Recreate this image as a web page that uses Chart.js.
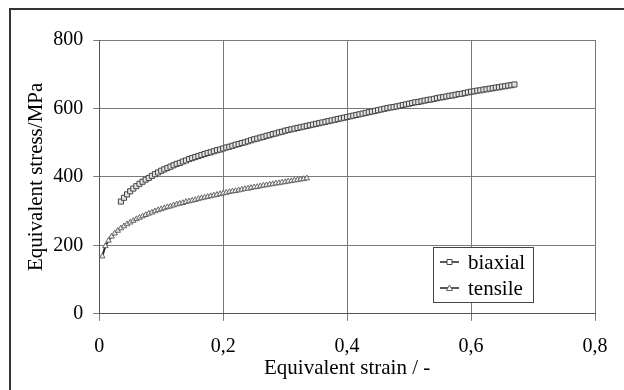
<!DOCTYPE html>
<html>
<head>
<meta charset="utf-8">
<script src="https://cdn.jsdelivr.net/npm/chart.js@4/dist/chart.umd.min.js"></script>
<style>
  html, body { margin: 0; padding: 0; background: #fff; }
  #wrap { width: 624px; height: 390px; }
</style>
</head>
<body>
<div id="wrap"><canvas id="stressChart" width="624" height="390"></canvas></div>
<script>
// values
const biaxialStrain = [
  0.035, 0.04, 0.045, 0.05, 0.055, 0.06, 0.065, 0.07, 0.075, 0.08, 0.085, 0.09, 0.095, 0.1,
  0.105, 0.11, 0.115, 0.12, 0.125, 0.13, 0.135, 0.14, 0.145, 0.15, 0.155, 0.16, 0.165, 0.17, 0.175, 0.18, 0.185, 0.19, 0.195, 0.2,
  0.205, 0.21, 0.215, 0.22, 0.225, 0.23, 0.235, 0.24, 0.245, 0.25, 0.255, 0.26, 0.265, 0.27, 0.275, 0.28, 0.285, 0.29, 0.295, 0.3,
  0.305, 0.31, 0.315, 0.32, 0.325, 0.33, 0.335, 0.34, 0.345, 0.35, 0.355, 0.36, 0.365, 0.37, 0.375, 0.38, 0.385, 0.39, 0.395, 0.4,
  0.405, 0.41, 0.415, 0.42, 0.425, 0.43, 0.435, 0.44, 0.445, 0.45, 0.455, 0.46, 0.465, 0.47, 0.475, 0.48, 0.485, 0.49, 0.495, 0.5,
  0.505, 0.51, 0.515, 0.52, 0.525, 0.53, 0.535, 0.54, 0.545, 0.55, 0.555, 0.56, 0.565, 0.57, 0.575, 0.58, 0.585, 0.59, 0.595, 0.6,
  0.605, 0.61, 0.615, 0.62, 0.625, 0.63, 0.635, 0.64, 0.645, 0.65, 0.655, 0.66, 0.665, 0.67
];
const biaxialStress = [
  328, 339, 349, 358, 366, 373, 380, 386, 392, 397, 403, 408, 413, 418,
  422, 426, 430, 434, 438, 441, 445, 448, 452, 455, 458, 461, 464, 467, 470, 472, 475, 478, 480, 483,
  486, 488, 491, 494, 496, 499, 501, 504, 507, 510, 512, 515, 517, 520, 522, 525, 527, 530, 532, 535,
  537, 539, 541, 543, 545, 547, 549, 551, 553, 555, 557, 559, 561, 563, 565, 567, 569, 571, 573, 575,
  577, 579, 581, 583, 585, 587, 589, 591, 593, 595, 597, 599, 601, 603, 604, 606, 608, 610, 612, 614,
  616, 618, 619, 621, 623, 625, 626, 628, 630, 632, 633, 635, 637, 638, 640, 642, 643, 645, 647, 649,
  650, 652, 653, 655, 656, 658, 659, 661, 662, 664, 665, 667, 668, 670
];
const tensileStrain = [
  0.005, 0.01, 0.015, 0.02, 0.025, 0.03, 0.035, 0.04, 0.045, 0.05, 0.055, 0.06, 0.065, 0.07, 0.075, 0.08, 0.085, 0.09, 0.095, 0.1,
  0.105, 0.11, 0.115, 0.12, 0.125, 0.13, 0.135, 0.14, 0.145, 0.15, 0.155, 0.16, 0.165, 0.17, 0.175, 0.18, 0.185, 0.19, 0.195, 0.2,
  0.205, 0.21, 0.215, 0.22, 0.225, 0.23, 0.235, 0.24, 0.245, 0.25, 0.255, 0.26, 0.265, 0.27, 0.275, 0.28, 0.285, 0.29, 0.295, 0.3,
  0.305, 0.31, 0.315, 0.32, 0.325, 0.33, 0.335
];
const tensileStress = [
  168, 198, 214, 226, 235, 243, 250, 256, 262, 267, 272, 277, 281, 285, 289, 293, 296, 300, 303, 306,
  309, 312, 314, 317, 320, 322, 324, 327, 329, 331, 333, 336, 338, 340, 342, 344, 346, 348, 350, 352,
  354, 356, 358, 359, 361, 363, 365, 366, 368, 370, 371, 373, 375, 376, 378, 379, 381, 382, 384, 385,
  387, 388, 390, 391, 393, 394, 396
];
const seriesNames = ["biaxial", "tensile"];
const xTicks = [0, 0.2, 0.4, 0.6, 0.8];
const yTicks = [0, 200, 400, 600, 800];

const FONT = '"Liberation Serif", "Times New Roman", serif';

function toPoints(xs, ys) {
  return xs.map((x, i) => ({ x, y: ys[i] }));
}

// outer frame (only top + left edge are visible in the original)
const frame = {
  id: "frame",
  beforeDraw(chart) {
    const ctx = chart.ctx;
    ctx.save();
    ctx.strokeStyle = "#333";
    ctx.lineWidth = 2;
    ctx.beginPath();
    ctx.moveTo(10, 390);
    ctx.lineTo(10, 9);
    ctx.lineTo(624, 9);
    ctx.stroke();
    ctx.restore();
  }
};

function marker(ctx, style, x, y) {
  ctx.beginPath();
  if (style === "rect") {
    ctx.rect(x - 2.5, y - 2.5, 5, 5);
  } else {
    ctx.moveTo(x, y - 3);
    ctx.lineTo(x + 3, y + 2.5);
    ctx.lineTo(x - 3, y + 2.5);
    ctx.closePath();
  }
  ctx.fill();
  ctx.stroke();
}

// boxed legend sitting inside the plot area
const legendBox = {
  id: "legendBox",
  afterDraw(chart) {
    const { ctx, chartArea } = chart;
    const left = chartArea.right - 162;
    const top = chartArea.top + 207;
    ctx.save();
    ctx.fillStyle = "#fff";
    ctx.fillRect(left, top, 100, 55);
    ctx.strokeStyle = "#444";
    ctx.lineWidth = 1;
    ctx.strokeRect(left + 0.5, top + 0.5, 100, 55);
    chart.data.datasets.forEach((ds, i) => {
      const y = top + 15 + i * 26;
      ctx.strokeStyle = "#222";
      ctx.lineWidth = 1.5;
      ctx.beginPath();
      ctx.moveTo(left + 7, y);
      ctx.lineTo(left + 26, y);
      ctx.stroke();
      ctx.lineWidth = 1;
      ctx.fillStyle = "#fff";
      ctx.strokeStyle = ds.pointBorderColor;
      marker(ctx, ds.pointStyle, left + 16.5, y);
      ctx.fillStyle = "#000";
      ctx.font = "21px " + FONT;
      ctx.textBaseline = "middle";
      ctx.fillText(ds.label, left + 35, y + 1);
    });
    ctx.restore();
  }
};

const commaTick = v => v === 0 ? "0" : v.toFixed(1).replace(".", ",");

new Chart(document.getElementById("stressChart"), {
  type: "scatter",
  data: {
    datasets: [
      {
        label: seriesNames[0],
        data: toPoints(biaxialStrain, biaxialStress),
        showLine: true,
        borderColor: "#222",
        borderWidth: 2,
        pointStyle: "rect",
        pointRadius: 3.6,
        pointBorderWidth: 1,
        pointBorderColor: "#444",
        pointBackgroundColor: "#e4e4e4"
      },
      {
        label: seriesNames[1],
        data: toPoints(tensileStrain, tensileStress),
        showLine: true,
        borderColor: "#222",
        borderWidth: 2,
        pointStyle: "triangle",
        pointRadius: 3.2,
        pointBorderWidth: 1,
        pointBorderColor: "#666",
        pointBackgroundColor: "#f4f4f4"
      }
    ]
  },
  options: {
    responsive: false,
    animation: false,
    layout: { padding: { left: 20, top: 40, right: 29, bottom: 5 } },
    plugins: {
      legend: { display: false },
      tooltip: { enabled: false }
    },
    scales: {
      x: {
        type: "linear",
        min: 0,
        max: 0.8,
        afterBuildTicks: axis => { axis.ticks = xTicks.map(value => ({ value })); },
        ticks: { color: "#000", font: { family: FONT, size: 20 }, padding: 14, callback: commaTick, maxRotation: 0 },
        grid: { color: "#7a7a7a", lineWidth: 1, tickLength: 7 },
        border: { color: "#555" },
        title: { display: true, text: "Equivalent strain / -", color: "#000", font: { family: FONT, size: 21 }, padding: { top: -17, bottom: 4 } }
      },
      y: {
        min: 0,
        max: 800,
        afterBuildTicks: axis => { axis.ticks = yTicks.map(value => ({ value })); },
        ticks: { color: "#000", font: { family: FONT, size: 20 }, padding: 10 },
        grid: { color: "#7a7a7a", lineWidth: 1, tickLength: 6 },
        border: { color: "#555" },
        title: { display: true, text: "Equivalent stress/MPa", color: "#000", font: { family: FONT, size: 21 }, padding: { top: 4, bottom: -6 } }
      }
    }
  },
  plugins: [frame, legendBox]
});
</script>
</body>
</html>
